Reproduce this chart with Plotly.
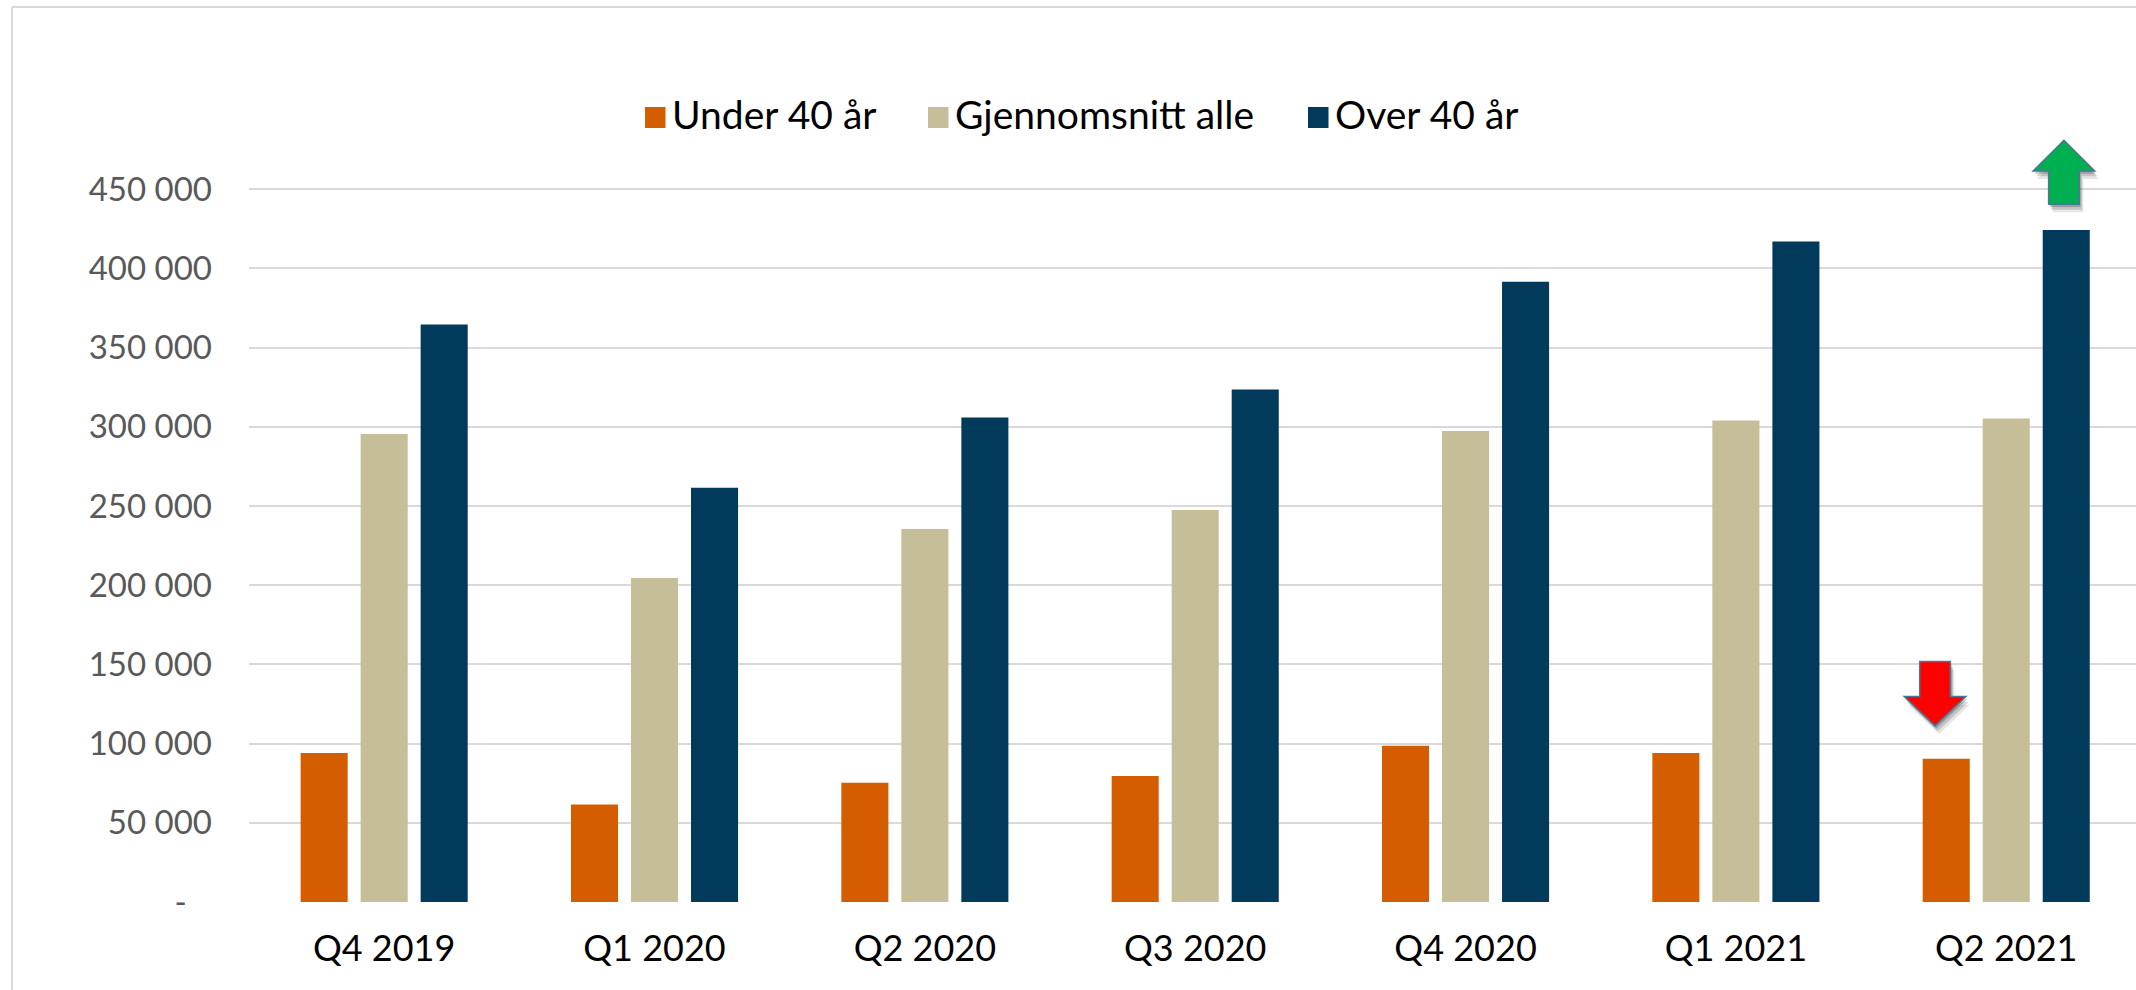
import plotly.graph_objects as go

# ---------------- data ----------------
categories = ["Q4 2019", "Q1 2020", "Q2 2020", "Q3 2020", "Q4 2020", "Q1 2021", "Q2 2021"]
series_names = ["Under 40 år", "Gjennomsnitt alle", "Over 40 år"]
under_40 = [94000, 61600, 75300, 79500, 98600, 94000, 90400]
snitt_alle = [295400, 204600, 235500, 247500, 297300, 304000, 305300]
over_40 = [364600, 261500, 305900, 323600, 391500, 417000, 424300]
y_ticks = [0, 50000, 100000, 150000, 200000, 250000, 300000, 350000, 400000, 450000]

colors = ["#D45D00", "#C5BE98", "#023A5B"]

# ---------------- layout geometry (pixels) ----------------
W, H = 2136, 990
ML, MR, MT, MB = 249, 0, 110, 88
PW = W - ML - MR
PH = H - MT - MB


def px_x(px):
    return (px - ML) / PW


def px_y(py):
    return (H - MB - py) / PH


def fmt(v):
    if v == 0:
        return "-\u00a0\u00a0\u00a0"
    return f"{v:,}".replace(",", " ")


fig = go.Figure()
xs = list(range(len(categories)))
for name, vals, col in zip(series_names, [under_40, snitt_alle, over_40], colors):
    fig.add_trace(go.Bar(x=xs, y=vals, name=name, marker=dict(color=col, line=dict(width=0)),
                         showlegend=False, hoverinfo="y+name"))

shapes = []
# outer chart border (cropped on right/bottom)
shapes.append(dict(type="line", xref="paper", yref="paper", x0=px_x(12), x1=px_x(12),
                   y0=px_y(7), y1=px_y(H + 5), line=dict(color="#D9D9D9", width=2)))
shapes.append(dict(type="line", xref="paper", yref="paper", x0=px_x(12), x1=px_x(W + 5),
                   y0=px_y(7), y1=px_y(7), line=dict(color="#D9D9D9", width=2)))


# arrows (annotation marks, in data coordinates)
def arrow_path(cx, base_y, head_y, tip_y, hw, sw, dx=0.0, dy=0.0):
    pts = [(cx - sw, base_y), (cx - sw, head_y), (cx - hw, head_y), (cx, tip_y),
           (cx + hw, head_y), (cx + sw, head_y), (cx + sw, base_y)]
    return "M " + " L ".join(f"{x + dx},{y + dy}" for x, y in pts) + " Z"


hw, sw = 0.114, 0.0567
arrows = [
    # center x, shaft end y, head base y, tip y, fill
    (6 + 0.2135, 440500, 461500, 480900, "#00B050"),
    (6 - 0.2634, 151800, 129700, 111200, "#FF0000"),
]
for cx, b, hb, t, fill in arrows:
    for k, op in [(3, 0.10), (2, 0.15), (1, 0.2)]:
        shapes.append(dict(type="path", xref="x", yref="y",
                           path=arrow_path(cx, b, hb, t, hw, sw, dx=k * 0.005, dy=-k * 1700),
                           fillcolor="#000000", opacity=op, line=dict(width=0), layer="above"))
    shapes.append(dict(type="path", xref="x", yref="y", path=arrow_path(cx, b, hb, t, hw, sw),
                       fillcolor=fill, line=dict(color="#4A7791", width=1.5), layer="above"))

# manual legend
annotations = []
legend_px = [(645, 674), (928, 957), (1308, 1337)]
for (sx, tx), name, col in zip(legend_px, series_names, colors):
    shapes.append(dict(type="rect", xref="paper", yref="paper", x0=px_x(sx), x1=px_x(sx + 20.5),
                       y0=px_y(128), y1=px_y(107), fillcolor=col, line=dict(width=0)))
    annotations.append(dict(xref="paper", yref="paper", x=px_x(tx - 4), y=px_y(114), text=name,
                            showarrow=False, xanchor="left", yanchor="middle",
                            font=dict(family="Lato", size=39, color="#000000")))

fig.update_layout(
    width=W, height=H,
    margin=dict(l=ML, r=MR, t=MT, b=MB, pad=0),
    paper_bgcolor="#FFFFFF", plot_bgcolor="#FFFFFF",
    barmode="group", bargap=0.334, bargroupgap=0.216,
    font=dict(family="Lato"),
    shapes=shapes, annotations=annotations,
    showlegend=False,
    xaxis=dict(range=[-0.5, 6.48], tickvals=xs, ticktext=categories, showgrid=False,
               zeroline=False, showline=False, ticks="", ticklabelstandoff=22,
               tickfont=dict(family="Lato", size=36, color="#000000"), fixedrange=True),
    yaxis=dict(range=[0, 500000], tickvals=y_ticks, ticktext=[fmt(v) for v in y_ticks],
               showgrid=True, gridcolor="#D9D9D9", gridwidth=2, zeroline=False, showline=False,
               ticks="", ticklabelstandoff=36,
               tickfont=dict(family="Lato", size=33, color="#595959"), fixedrange=True),
)

fig.write_html(
    "out.html",
    config={"displayModeBar": False},
    post_script="document.body.style.margin='0';document.body.style.overflow='hidden';",
)
